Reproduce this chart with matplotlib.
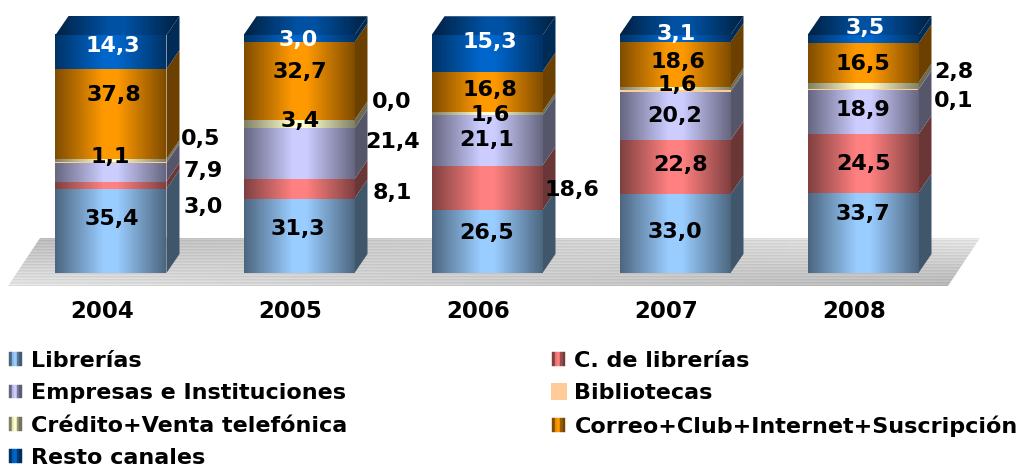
import matplotlib
matplotlib.use('Agg')
import matplotlib.pyplot as plt
import numpy as np
from matplotlib.legend_handler import HandlerBase
from matplotlib.patches import Patch, Polygon, Rectangle
from matplotlib.transforms import ScaledTranslation

years = ['2004', '2005', '2006', '2007', '2008']
series_names = ['Librerías', 'C. de librerías', 'Empresas e Instituciones',
                'Bibliotecas', 'Crédito+Venta telefónica',
                'Correo+Club+Internet+Suscripción', 'Resto canales']
librerias = [35.4, 31.3, 26.5, 33.0, 33.7]
c_librerias = [3.0, 8.1, 18.6, 22.8, 24.5]
empresas = [7.9, 21.4, 21.1, 20.2, 18.9]
bibliotecas = [0.5, 0.0, 0.0, 0.7, 0.1]
credito = [1.1, 3.4, 1.6, 1.6, 2.8]
correo = [37.8, 32.7, 16.8, 18.6, 16.5]
resto = [14.3, 3.0, 15.3, 3.1, 3.5]
series = [librerias, c_librerias, empresas, bibliotecas, credito, correo, resto]

colors = ['#99CCFF', '#FF8080', '#CCCCFF', '#FFCC99', '#FFFFCC', '#FF9900',
          '#0066CC']
faded = [True, True, True, False, True, True, True]
label_colors = ['black'] * 6 + ['white']

# Label offsets from the segment centre, in pixels. None means no label.
label_offsets = [
    [(1, 12), (92, -22), (92, 1), (90, 23), (-1, 3), (3, 19), (2, 6)],
    [(-1, 7), (93, -4), (94, 12), (93, 26), (1, 3), (1, 9), (-1, -1)],
    [(0, 8), (85, -2), (0, 1), None, (3, -1), (3, 2), (3, 11)],
    [(0, 2), (6, 2), (0, 0), None, (2, 4), (3, 3), (1, 5)],
    [(0, 19), (0, 0), (0, 2), (91, -12), (91, 14), (0, -1), (2, 11)],
]

W, H = 1031, 468
PX_X = 188.0   # pixels per category
PX_Y = 2.38    # pixels per percent
X0, Y0 = 111, 273
FLOOR_PX = 286
BAR_W = 111 / PX_X
DX = 13 / PX_X
DY = 19 / PX_Y
FS = 16


def fade(color, lo=0.5, n=256):
    """Horizontal gradient, dark at the edges and full colour in the middle"""
    t = 1 - np.abs(np.linspace(-1, 1, n))
    shade = lo + (1 - lo) * np.minimum(t * 1.15, 1)
    rgb = np.array(matplotlib.colors.to_rgb(color))
    return np.repeat((shade[:, None] * rgb)[None, :, :], 2, axis=0)


def draw_image(ax, img, extent, zorder, clip=None):
    im = ax.imshow(img, extent=extent, aspect='auto', zorder=zorder,
                   interpolation='nearest', origin='lower')
    if clip is not None:
        patch = Polygon(clip, closed=True, transform=ax.transData)
        im.set_clip_path(patch)
    return im


def draw_floor(ax):
    y_front = (Y0 - FLOOR_PX) / PX_Y
    y_back = 48. / PX_Y + y_front
    corners = [(8, y_front), (40, y_back), (980, y_back), (948, y_front)]
    corners = [((x - X0) / PX_X, y) for x, y in corners]
    # Striped grey texture, darkest at back left and front right
    rows = 48
    cols = 320
    u = np.linspace(0, 1, cols)[None, :]
    w = np.linspace(0, 1, rows)[:, None]
    v = (0.86 * (1 - u) * (1 - w) + 0.70 * (1 - u) * w
         + 0.68 * u * (1 - w) + 0.87 * u * w)
    v[1::3, :] += 0.06
    v[2::3, :] += 0.03
    v = np.clip(v, 0, 1)
    img = np.dstack([v, v, v])
    xs = [c[0] for c in corners]
    im = ax.imshow(img, extent=(min(xs), max(xs), y_front, y_back),
                   aspect='auto', zorder=1, origin='lower',
                   interpolation='nearest')
    im.set_clip_path(Polygon(corners, closed=True, transform=ax.transData))


def draw_bars(ax):
    for i, year in enumerate(years):
        xl, xr = i - BAR_W / 2, i + BAR_W / 2
        bottom = 0.
        for j, values in enumerate(series):
            val = values[i]
            top = bottom + val
            if val > 0:
                side = np.array(matplotlib.colors.to_rgb(colors[j])) * 0.42
                ax.add_patch(Polygon(
                    [(xr, bottom), (xr + DX, bottom + DY),
                     (xr + DX, top + DY), (xr, top)],
                    closed=True, facecolor=side, edgecolor='none', zorder=2))
                if faded[j]:
                    draw_image(ax, fade(colors[j]), (xl, xr, bottom, top), 3)
                else:
                    ax.add_patch(Rectangle((xl, bottom), BAR_W, val, zorder=3,
                                           facecolor=colors[j],
                                           edgecolor='none'))
            off = label_offsets[i][j]
            if off is not None:
                ax.annotate('{:.1f}'.format(val).replace('.', ','),
                            (i, bottom + val / 2.), xytext=off,
                            textcoords='offset pixels', ha='center',
                            va='center', fontsize=FS, fontweight='bold',
                            color=label_colors[j], zorder=5)
            bottom = top
        # Top face takes the colour of the last series
        outline = [(xl, bottom), (xl + DX, bottom + DY),
                   (xr + DX, bottom + DY), (xr, bottom)]
        draw_image(ax, fade(colors[-1], lo=0.4) * 0.8,
                   (xl, xr + DX, bottom, bottom + DY), 3, clip=outline)


class GradientHandler(HandlerBase):
    def create_artists(self, legend, orig_handle, xdescent, ydescent, width,
                       height, fontsize, trans):
        color = orig_handle.get_facecolor()
        if orig_handle.get_label() == 'flat':
            return [Rectangle((-xdescent - 1, -ydescent - 1), width + 2,
                              height + 2, facecolor=color, edgecolor='none',
                              transform=trans)]
        artists = []
        strips = [0.5, 0.9, 1.0, 0.6, 0.45]
        w = width / len(strips)
        for k, s in enumerate(strips):
            c = np.array(color[:3]) * s
            artists.append(Rectangle((-xdescent + k * w, -ydescent), w, height,
                                     facecolor=c, edgecolor=c, linewidth=0.3,
                                     transform=trans))
        return artists


def draw_legend(fig):
    handles = []
    names = []
    for j, name in enumerate(series_names):
        handles.append(Patch(facecolor=colors[j],
                             label='fade' if faded[j] else 'flat'))
        names.append(name)
    order = [0, 2, 4, 6, 1, 3, 5]
    fig.legend([handles[k] for k in order], [names[k] for k in order],
               ncols=2, loc='upper left', bbox_to_anchor=(0.0, 1 - 342 / H),
               frameon=False, prop={'weight': 'bold', 'size': FS},
               handler_map={Patch: GradientHandler()},
               handlelength=0.59, handleheight=0.59, handletextpad=0.42,
               labelspacing=0.56, columnspacing=9.2, borderpad=0.15,
               borderaxespad=0.25)


def main():
    fig = plt.figure(figsize=(W / 100., H / 100.), dpi=100)
    ax = fig.add_axes([0, (H - FLOOR_PX) / float(H), 1, FLOOR_PX / float(H)])
    draw_floor(ax)
    draw_bars(ax)

    ax.set_xlim(-X0 / PX_X, (W - X0) / PX_X)
    ax.set_ylim((Y0 - FLOOR_PX) / PX_Y, Y0 / PX_Y)
    ax.set_xticks(range(len(years)))
    ax.set_xticklabels(years, fontsize=FS + 0.5, fontweight='bold')
    ax.tick_params(axis='x', length=0, pad=10)
    shift = ScaledTranslation(-9 / 100., 0, fig.dpi_scale_trans)
    for tick in ax.get_xticklabels():
        tick.set_transform(tick.get_transform() + shift)
    ax.yaxis.set_visible(False)
    for spine in ax.spines.values():
        spine.set_visible(False)

    draw_legend(fig)
    fig.savefig('out.png', dpi=100)


if __name__ == '__main__':
    main()
